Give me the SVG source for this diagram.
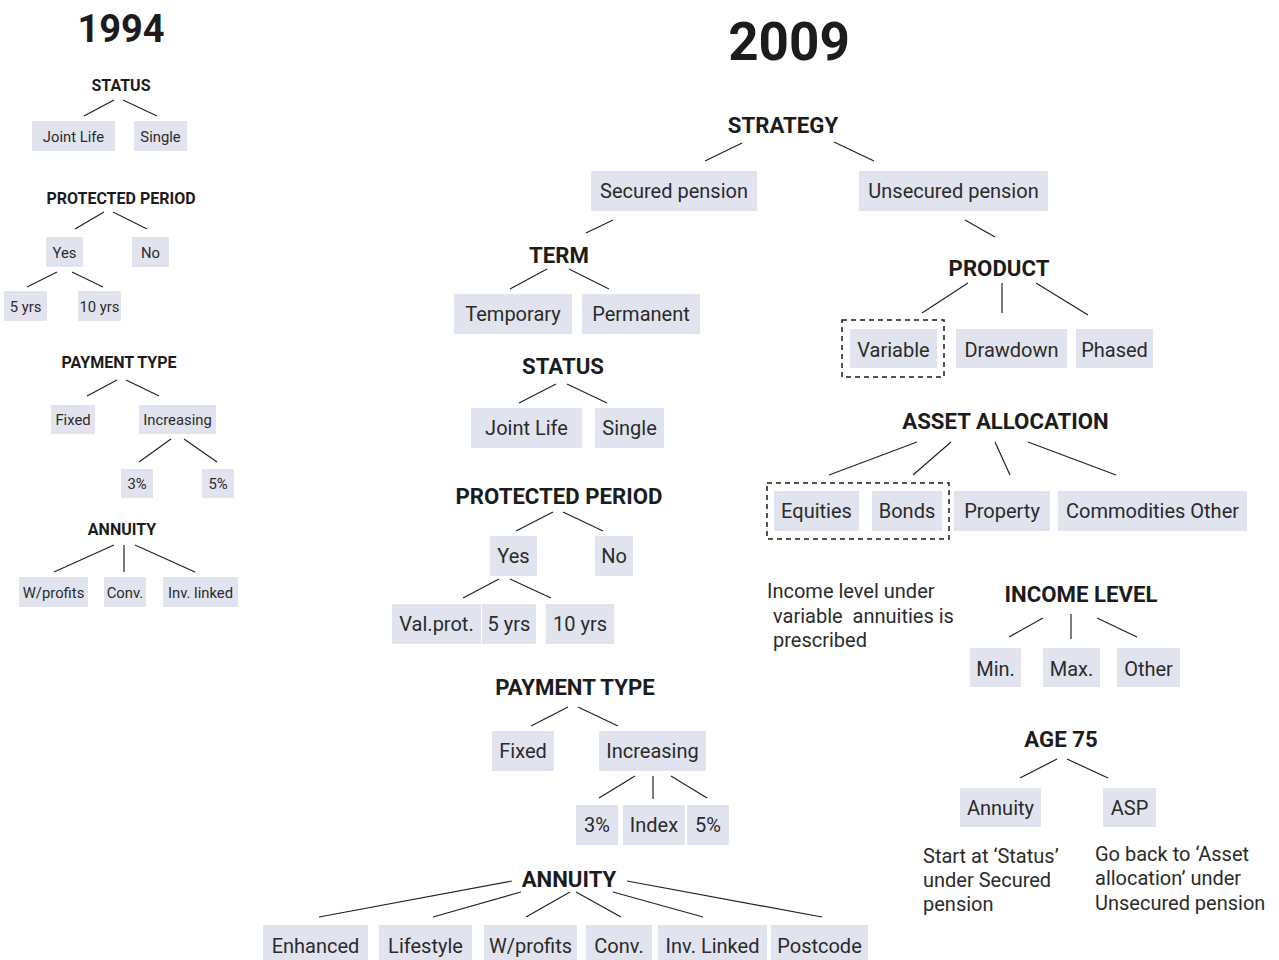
<svg xmlns="http://www.w3.org/2000/svg" width="1279" height="960" viewBox="0 0 1279 960">
<style>
text{font-family:Roboto,"Liberation Sans",sans-serif;fill:#2b2b2b}
.h{font-weight:bold;fill:#1c1c1c;text-anchor:middle}
.h1{font-size:16px}
.h2{font-size:22.2px}
.t{font-weight:bold;fill:#1c1c1c;text-anchor:middle}
.b{fill:#e1e3ee}
.s{font-size:14.8px;text-anchor:middle}
.m{font-size:20px;text-anchor:middle}
.n{font-size:20px;white-space:pre}
.d{fill:none;stroke:#1a1a1a;stroke-width:1.5;stroke-dasharray:5 4}
#connectors line{stroke:#222;stroke-width:1.2}
</style>
<rect width="1279" height="960" fill="#fff"/>
<g id="connectors">
<line x1="114" y1="100" x2="84" y2="116"/><line x1="123" y1="100" x2="157" y2="116"/>
<line x1="104" y1="212" x2="75" y2="229"/><line x1="113" y1="212" x2="147" y2="229"/>
<line x1="57" y1="272" x2="27" y2="287"/><line x1="72" y1="272" x2="103" y2="287"/>
<line x1="117" y1="380" x2="87" y2="396"/><line x1="126" y1="380" x2="159" y2="396"/>
<line x1="171" y1="439" x2="139" y2="462"/><line x1="184" y1="439" x2="217" y2="462"/>
<line x1="114" y1="545" x2="54" y2="572"/><line x1="124" y1="545" x2="124" y2="572"/><line x1="135" y1="545" x2="195" y2="572"/>
<line x1="742" y1="143" x2="705" y2="161"/><line x1="834" y1="142" x2="874" y2="161"/>
<line x1="613" y1="220" x2="586" y2="233"/><line x1="965" y1="220" x2="995" y2="237"/>
<line x1="547" y1="269" x2="510" y2="289"/><line x1="569" y1="269" x2="609" y2="289"/>
<line x1="556" y1="384" x2="519" y2="403"/><line x1="567" y1="384" x2="607" y2="403"/>
<line x1="553" y1="512" x2="516" y2="531"/><line x1="563" y1="512" x2="603" y2="531"/>
<line x1="499" y1="579" x2="463" y2="598"/><line x1="510" y1="579" x2="551" y2="598"/>
<line x1="568" y1="707" x2="531" y2="726"/><line x1="578" y1="707" x2="618" y2="726"/>
<line x1="635" y1="776" x2="599" y2="798"/><line x1="653" y1="776" x2="653" y2="799"/><line x1="671" y1="776" x2="707" y2="798"/>
<line x1="512" y1="881" x2="319" y2="917"/><line x1="521" y1="892" x2="433" y2="917"/><line x1="570" y1="892" x2="526" y2="917"/>
<line x1="576" y1="892" x2="621" y2="917"/><line x1="613" y1="892" x2="703" y2="917"/><line x1="627" y1="881" x2="822" y2="917"/>
<line x1="968" y1="283" x2="922" y2="313"/><line x1="1002" y1="283" x2="1002" y2="313"/><line x1="1036" y1="283" x2="1088" y2="315"/>
<line x1="917" y1="442" x2="829" y2="475"/><line x1="951" y1="442" x2="913" y2="475"/><line x1="995" y1="442" x2="1010" y2="475"/><line x1="1028" y1="442" x2="1116" y2="475"/>
<line x1="1043" y1="618" x2="1009" y2="637"/><line x1="1071" y1="614" x2="1071" y2="639"/><line x1="1097" y1="618" x2="1137" y2="637"/>
<line x1="1057" y1="759" x2="1020" y2="778"/><line x1="1067" y1="759" x2="1108" y2="778"/>
</g>
<g id="title-1994"><text class="t" x="121" y="42" font-size="38">1994</text></g>
<g id="l-status"><text class="h h1" x="121" y="91">STATUS</text></g>
<g id="l-jointlife"><rect class="b" x="32" y="121" width="83" height="30"/><text class="s" x="73.5" y="142">Joint Life</text></g>
<g id="l-single"><rect class="b" x="134" y="121" width="53" height="30"/><text class="s" x="160.5" y="142">Single</text></g>
<g id="l-protected"><text class="h h1" x="121" y="204">PROTECTED PERIOD</text></g>
<g id="l-yes"><rect class="b" x="46" y="237" width="37" height="30"/><text class="s" x="64.5" y="258">Yes</text></g>
<g id="l-no"><rect class="b" x="132" y="237" width="37" height="30"/><text class="s" x="150.5" y="258">No</text></g>
<g id="l-5yrs"><rect class="b" x="4" y="291" width="43" height="30"/><text class="s" x="25.5" y="312">5 yrs</text></g>
<g id="l-10yrs"><rect class="b" x="78" y="291" width="43" height="30"/><text class="s" x="99.5" y="312">10 yrs</text></g>
<g id="l-payment"><text class="h h1" x="119" y="368">PAYMENT TYPE</text></g>
<g id="l-fixed"><rect class="b" x="51" y="405" width="44" height="29"/><text class="s" x="73" y="425">Fixed</text></g>
<g id="l-increasing"><rect class="b" x="139" y="405" width="77" height="29"/><text class="s" x="177.5" y="425">Increasing</text></g>
<g id="l-3pct"><rect class="b" x="121" y="469" width="32" height="29"/><text class="s" x="137" y="489">3%</text></g>
<g id="l-5pct"><rect class="b" x="202" y="469" width="32" height="29"/><text class="s" x="218" y="489">5%</text></g>
<g id="l-annuity"><text class="h h1" x="122" y="535">ANNUITY</text></g>
<g id="l-wprofits"><rect class="b" x="19" y="577" width="69" height="30"/><text class="s" x="53.5" y="598">W/profits</text></g>
<g id="l-conv"><rect class="b" x="104" y="577" width="42" height="30"/><text class="s" x="125" y="598">Conv.</text></g>
<g id="l-invlinked"><rect class="b" x="163" y="577" width="75" height="30"/><text class="s" x="200.5" y="598">Inv. linked</text></g>

<g id="title-2009"><text class="t" x="789" y="60" font-size="53">2009</text></g>
<g id="strategy"><text class="h h2" x="783" y="133">STRATEGY</text></g>
<g id="secured"><rect class="b" x="591" y="171" width="166" height="40"/><text class="m" x="674" y="198">Secured pension</text></g>
<g id="unsecured"><rect class="b" x="859" y="171" width="189" height="40"/><text class="m" x="953.5" y="198">Unsecured pension</text></g>
<g id="term"><text class="h h2" x="559" y="263">TERM</text></g>
<g id="temporary"><rect class="b" x="454" y="294" width="118" height="40"/><text class="m" x="513" y="321">Temporary</text></g>
<g id="permanent"><rect class="b" x="582" y="294" width="118" height="40"/><text class="m" x="641" y="321">Permanent</text></g>
<g id="status"><text class="h h2" x="563" y="374">STATUS</text></g>
<g id="jointlife"><rect class="b" x="471" y="408" width="111" height="40"/><text class="m" x="526.5" y="435">Joint Life</text></g>
<g id="single"><rect class="b" x="595" y="408" width="69" height="40"/><text class="m" x="629.5" y="435">Single</text></g>
<g id="protected"><text class="h h2" x="559" y="504">PROTECTED PERIOD</text></g>
<g id="yes"><rect class="b" x="490" y="536" width="47" height="40"/><text class="m" x="513.5" y="563">Yes</text></g>
<g id="no"><rect class="b" x="595" y="536" width="38" height="40"/><text class="m" x="614" y="563">No</text></g>
<g id="valprot"><rect class="b" x="392" y="604" width="89" height="40"/><text class="m" x="436.5" y="631">Val.prot.</text></g>
<g id="yrs5"><rect class="b" x="482" y="604" width="54" height="40"/><text class="m" x="509" y="631">5 yrs</text></g>
<g id="yrs10"><rect class="b" x="546" y="604" width="68" height="40"/><text class="m" x="580" y="631">10 yrs</text></g>
<g id="payment"><text class="h h2" x="575" y="695">PAYMENT TYPE</text></g>
<g id="fixed"><rect class="b" x="492" y="731" width="62" height="40"/><text class="m" x="523" y="758">Fixed</text></g>
<g id="increasing"><rect class="b" x="599" y="731" width="107" height="40"/><text class="m" x="652.5" y="758">Increasing</text></g>
<g id="pct3"><rect class="b" x="576" y="805" width="42" height="40"/><text class="m" x="597" y="832">3%</text></g>
<g id="index"><rect class="b" x="623" y="805" width="62" height="40"/><text class="m" x="654" y="832">Index</text></g>
<g id="pct5"><rect class="b" x="687" y="805" width="42" height="40"/><text class="m" x="708" y="832">5%</text></g>
<g id="annuity"><text class="h h2" x="569" y="887">ANNUITY</text></g>
<g id="enhanced"><rect class="b" x="263" y="925" width="105" height="35"/><text class="m" x="315.5" y="953">Enhanced</text></g>
<g id="lifestyle"><rect class="b" x="379" y="925" width="93" height="35"/><text class="m" x="425.5" y="953">Lifestyle</text></g>
<g id="wprofits"><rect class="b" x="484" y="925" width="93" height="35"/><text class="m" x="530.5" y="953">W/profits</text></g>
<g id="conv"><rect class="b" x="586" y="925" width="66" height="35"/><text class="m" x="619" y="953">Conv.</text></g>
<g id="invlinked"><rect class="b" x="658" y="925" width="109" height="35"/><text class="m" x="712.5" y="953">Inv. Linked</text></g>
<g id="postcode"><rect class="b" x="771" y="925" width="97" height="35"/><text class="m" x="819.5" y="953">Postcode</text></g>

<g id="product"><text class="h h2" x="999" y="276">PRODUCT</text></g>
<g id="variable"><rect class="d" x="842" y="320" width="102" height="57"/><rect class="b" x="850" y="329" width="87" height="39"/><text class="m" x="893.5" y="357">Variable</text></g>
<g id="drawdown"><rect class="b" x="956" y="329" width="111" height="39"/><text class="m" x="1011.5" y="357">Drawdown</text></g>
<g id="phased"><rect class="b" x="1076" y="329" width="77" height="39"/><text class="m" x="1114.5" y="357">Phased</text></g>
<g id="asset"><text class="h h2" x="1005.5" y="429">ASSET ALLOCATION</text></g>
<g id="equities-bonds"><rect class="d" x="767" y="483" width="182" height="56"/>
<g id="equities"><rect class="b" x="774" y="491" width="85" height="40"/><text class="m" x="816.5" y="518">Equities</text></g>
<g id="bonds"><rect class="b" x="872" y="491" width="70" height="40"/><text class="m" x="907" y="518">Bonds</text></g></g>
<g id="property"><rect class="b" x="954" y="491" width="96" height="40"/><text class="m" x="1002" y="518">Property</text></g>
<g id="commodities"><rect class="b" x="1058" y="491" width="189" height="40"/><text class="m" x="1152.5" y="518">Commodities Other</text></g>
<g id="note-income"><text class="n" x="767" y="598">Income level under</text><text class="n" x="773" y="623">variable  annuities is</text><text class="n" x="773" y="647">prescribed</text></g>
<g id="income"><text class="h h2" x="1081" y="602">INCOME LEVEL</text></g>
<g id="min"><rect class="b" x="970" y="648" width="51" height="39"/><text class="m" x="995.5" y="676">Min.</text></g>
<g id="max"><rect class="b" x="1043" y="648" width="57" height="39"/><text class="m" x="1071.5" y="676">Max.</text></g>
<g id="other"><rect class="b" x="1117" y="648" width="63" height="39"/><text class="m" x="1148.5" y="676">Other</text></g>
<g id="age75"><text class="h h2" x="1061" y="747">AGE 75</text></g>
<g id="annuity75"><rect class="b" x="960" y="788" width="81" height="39"/><text class="m" x="1000.5" y="815">Annuity</text></g>
<g id="asp"><rect class="b" x="1103" y="788" width="53" height="39"/><text class="m" x="1129.5" y="815">ASP</text></g>
<g id="note-annuity"><text class="n" x="923" y="863">Start at ‘Status’</text><text class="n" x="923" y="887">under Secured</text><text class="n" x="923" y="911">pension</text></g>
<g id="note-asp"><text class="n" x="1095" y="861">Go back to ‘Asset</text><text class="n" x="1095" y="885">allocation’ under</text><text class="n" x="1095" y="910">Unsecured pension</text></g>
</svg>
